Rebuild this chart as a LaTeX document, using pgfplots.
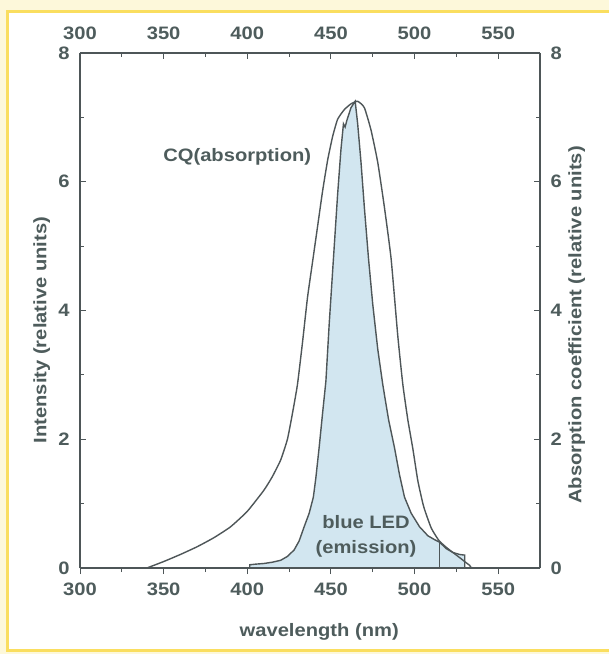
\documentclass[border=0pt]{standalone}
\usepackage{fontspec}
\setmainfont{Liberation Sans}[FakeStretch=1.12]
\usepackage{pgfplots}
\pgfplotsset{compat=1.18}
\definecolor{txt}{RGB}{78,92,92}
\definecolor{ln}{RGB}{78,86,88}
\definecolor{led}{RGB}{210,230,240}
\definecolor{frameY}{RGB}{250,222,95}
\definecolor{paleY}{RGB}{253,248,218}
\newcommand{\bigb}{\fontsize{18bp}{21bp}\selectfont\bfseries}
\pgfplotsset{
  base/.style={scale only axis, width=460bp, height=515bp,
    xmin=300, xmax=575, ymin=0, ymax=8, at={(0,0)}, anchor=south west,
    /pgf/number format/assume math mode=true,
    axis line style={ln, line width=1.2bp},
    every tick/.style={ln, line width=1bp},
    major tick length=6bp, minor tick length=4bp,
    tick label style={font=\bigb, text=txt},
    xtick={300,350,...,550}, minor x tick num=1,
    ytick={0,2,4,6,8}, minor y tick num=1,
  }
}
\begin{document}
\begin{tikzpicture}
\path[use as bounding box] (-80bp,-86bp) rectangle (529bp,568bp);
\fill[paleY] (-80bp,-86bp) rectangle (529bp,568bp);
\filldraw[fill=white, draw=frameY, line width=3bp] (-72.5bp,-82bp) rectangle (545bp,556.5bp);

% data + left axis
\begin{axis}[base, axis x line=none, axis y line*=left, tick align=inside,
  yticklabel style={xshift=-7bp},
  ylabel={Intensity (relative units)},
  ylabel style={font=\bigb, text=txt, at={(axis description cs:-0.083,0.462)}, rotate=0, anchor=center}]
\addplot[fill=led, draw=ln, line width=1.4bp] coordinates {
(401.5,0) (401.5,0.05) (405,0.06) (410,0.07) (415,0.09) (420,0.12) (424,0.18)
(428,0.28) (431,0.42) (434,0.64) (437,0.85) (439.5,1.1) (441,1.4) (443,1.88)
(445,2.4) (447,2.9) (449,3.8) (451.5,4.8) (454,5.8) (456,6.5) (457.5,6.9)
(458.5,6.85) (459.5,6.95) (462,7.15) (464.5,7.25) (466,6.9) (468,6.3) (470,5.6)
(472.5,4.8) (475,4.1) (478,3.4) (481,2.85) (484.5,2.3) (488,1.87) (491,1.45)
(494,1.1) (498,0.85) (503,0.64) (508,0.5) (512,0.44) (515,0.4) (519,0.3)
(523,0.24) (527,0.21) (530,0.2) (530,0)} \closedcycle;
\addplot[draw=ln, line width=1bp] coordinates {(515,0) (515,0.4)};
\addplot[draw=ln, line width=1.4bp, smooth, tension=0.3] coordinates {
(340,0) (350,0.1) (360,0.21) (370,0.33) (380,0.47) (390,0.64) (400,0.88)
(410,1.21) (415,1.42) (420,1.68) (424,2.0) (427,2.4) (430,2.85) (433,3.5)
(436,4.2) (439,4.75) (442,5.3) (445,5.85) (448,6.33) (451,6.7) (454,6.97)
(458,7.12) (462,7.21) (466,7.25) (470,7.15) (474,6.8) (478,6.3) (482,5.6)
(486,4.8) (490,3.6) (493,2.85) (496,2.3) (499,1.85) (502,1.35) (505.5,0.95)
(510,0.62) (514.5,0.43) (519,0.32) (524,0.22) (528,0.14) (533,0.04) (536,0) (575,0)};
\node[font=\bigb, text=txt] at (axis cs:394,6.38) {CQ(absorption)};
\node[font=\bigb, text=txt] at (axis cs:471,0.71) {blue LED};
\node[font=\bigb, text=txt] at (axis cs:471,0.3) {(emission)};
\end{axis}

% bottom axis
\begin{axis}[base, axis y line=none, axis x line*=bottom, tick align=outside,
  xticklabel style={yshift=-5bp},
  xlabel={wavelength (nm)},
  xlabel style={font=\bigb, text=txt, at={(axis description cs:0.52,-0.124)}, anchor=center}]
\addplot[draw=none] coordinates {(300,0)};
\end{axis}

% top and right axis
\begin{axis}[base, axis x line*=top, axis y line*=right, tick align=inside,
  yticklabel style={xshift=7bp},
  xticklabel style={yshift=10bp},
  ylabel={Absorption coefficient (relative units)},
  ylabel style={font=\bigb, text=txt, at={(axis description cs:1.080,0.472)}, rotate=0, anchor=center}]
\addplot[draw=none] coordinates {(300,0)};
\end{axis}
\end{tikzpicture}
\end{document}
